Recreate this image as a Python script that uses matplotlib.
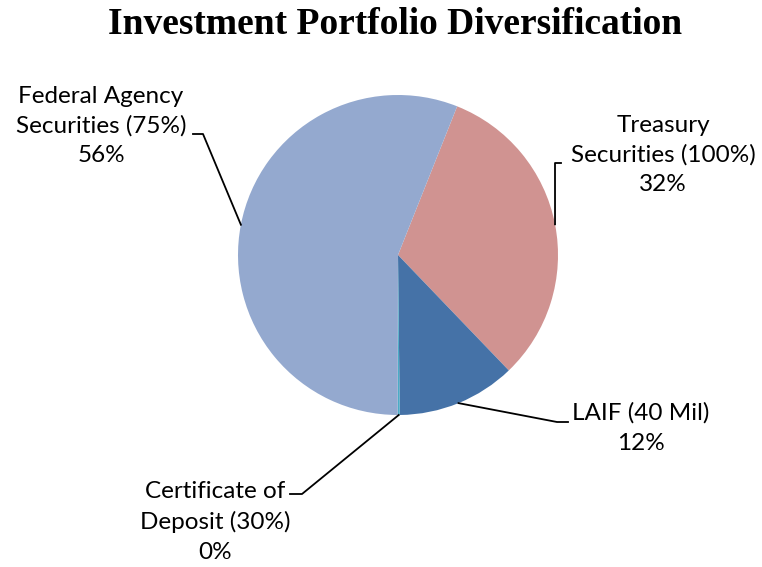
import numpy as np
import matplotlib.pyplot as plt

# portfolio shares (percent), clockwise order as drawn
labels = ["Treasury\nSecurities (100%)", "LAIF (40 Mil)", "Certificate of\nDeposit (30%)",
          "Federal Agency\nSecurities (75%)"]
values = [31.8, 12.0, 0.2, 56.0]
colors = ["#D09391", "#4572A7", "#4BACC6", "#94A9CF"]

W, H = 762, 567
fig = plt.figure(figsize=(W / 100, H / 100), dpi=100)
ax = fig.add_axes([0, 0, 1, 1])

cx, cy, r = 398, H - 255, 160
wedges, _ = ax.pie(values, colors=colors, startangle=68.3, counterclock=False,
                   center=(cx, cy), radius=r, frame=True,
                   wedgeprops=dict(linewidth=0))
ax.set_xlim(0, W)
ax.set_ylim(0, H)
ax.set_aspect("equal")
ax.axis("off")

# label block centre, elbow point, end of short horizontal
layout = [
    ((663, H - 155), (555, H - 163), (561, H - 163)),
    ((641, H - 428), (557, H - 422), (568, H - 422)),
    ((215, H - 522), (302, H - 494), (290, H - 494)),
    ((101, H - 126), (203, H - 134), (193, H - 134)),
]

font = "Lato"
for w, lab, v, (tpos, elbow, tip) in zip(wedges, labels, values, layout):
    ang = np.deg2rad((w.theta1 + w.theta2) / 2)
    p = (cx + r * np.cos(ang), cy + r * np.sin(ang))
    ax.plot([p[0], elbow[0], tip[0]], [p[1], elbow[1], tip[1]], color="black", lw=1.3)
    ax.text(tpos[0], tpos[1], f"{lab}\n{v:.0f}%", ha="center", va="center",
            fontsize=17.5, family=font, linespacing=1.5, color="black")

fig.text(0.518, 1 - 24 / H, "Investment Portfolio Diversification", ha="center", va="center",
         fontsize=27, fontweight="bold", family="Liberation Serif")

fig.savefig("out.png", dpi=100)
